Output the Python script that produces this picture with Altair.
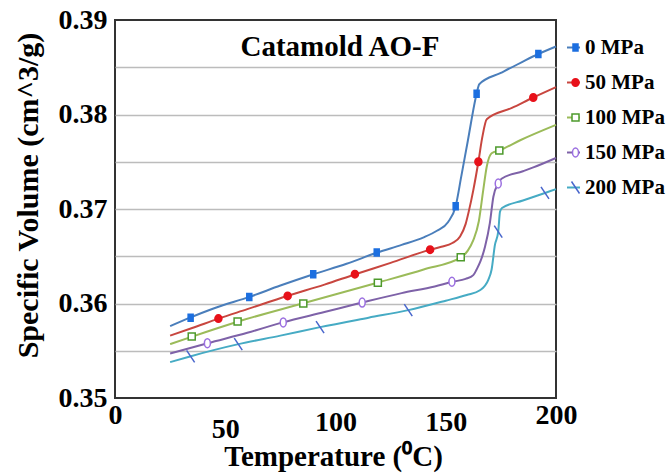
import altair as alt
import pandas as pd

FONT = "Liberation Serif"

series_names = ["0 MPa", "50 MPa", "100 MPa", "150 MPa", "200 MPa"]
pressures = [0, 50, 100, 150, 200]

# smoothed curves (temperature, specific volume)
line_T_0 = [25, 34, 45, 61, 75, 90, 105, 119, 130, 140, 146, 151, 154.5, 157, 160, 164, 165.2, 175, 185, 192, 200]
line_v_0 = [0.3576, 0.3585, 0.3595, 0.3607, 0.3619, 0.3631, 0.3642, 0.3654, 0.3662, 0.3670, 0.3677, 0.3686,
            0.3703, 0.3734, 0.3772, 0.3822, 0.3832, 0.3844, 0.3856, 0.3864, 0.3872]
line_T_50 = [25, 35, 47, 60, 78, 95, 109, 125, 143, 148, 153, 156.5, 159, 160.5, 162.5, 164.8, 166.5, 168.6, 180, 189.7, 200]
line_v_50 = [0.3566, 0.3574, 0.3584, 0.3594, 0.3608, 0.3620, 0.3631, 0.3643, 0.3657, 0.3660, 0.3664, 0.3671,
             0.3684, 0.3698, 0.3720, 0.3750, 0.3775, 0.3795, 0.3807, 0.3818, 0.3829]
line_T_100 = [25, 35, 56, 85, 119, 140, 157, 160, 162.5, 165, 167, 168.6, 170.8, 174.3, 184, 200]
line_v_100 = [0.3557, 0.3565, 0.3581, 0.3600, 0.3622, 0.3636, 0.3649, 0.3656, 0.3667, 0.3687, 0.3720, 0.3745,
              0.3759, 0.3762, 0.3773, 0.3789]
line_T_150 = [25, 42, 60, 76, 95, 112, 130, 145, 153, 159, 162.5, 164, 165.8, 167.8, 170, 171.6, 173.8, 175.3, 185, 189.7, 200]
line_v_150 = [0.3547, 0.3558, 0.3569, 0.3580, 0.3591, 0.3601, 0.3611, 0.3618, 0.3623, 0.3626, 0.3630, 0.3636,
              0.3645, 0.3660, 0.3685, 0.3713, 0.3727, 0.3732, 0.3740, 0.3744, 0.3754]
line_T_200 = [25, 34, 56, 75, 93, 115, 133, 150, 159.5, 165.5, 169.3, 170.8, 172.3, 173.8, 174.6, 175.5, 185, 195, 200]
line_v_200 = [0.3538, 0.3544, 0.3557, 0.3566, 0.3575, 0.3585, 0.3593, 0.3603, 0.3609, 0.3614, 0.3625, 0.3636,
              0.3662, 0.3676, 0.3697, 0.3701, 0.3709, 0.3717, 0.3721]

# data markers
mark_T_0 = [34.3, 60.9, 89.9, 118.7, 154.5, 164, 192]
mark_v_0 = [0.3585, 0.3607, 0.3631, 0.3654, 0.3703, 0.3822, 0.3864]
mark_T_50 = [46.9, 78.3, 108.8, 142.9, 164.8, 189.7]
mark_v_50 = [0.3584, 0.3608, 0.3631, 0.3657, 0.3750, 0.3818]
mark_T_100 = [34.8, 55.6, 85.4, 119.2, 156.8, 174.3]
mark_v_100 = [0.3565, 0.3581, 0.3600, 0.3622, 0.3649, 0.3762]
mark_T_150 = [41.9, 76.3, 112.1, 152.8, 173.8]
mark_v_150 = [0.3558, 0.3580, 0.3601, 0.3623, 0.3727]
mark_T_200 = [34.3, 55.9, 93, 133, 173.8, 195]
mark_v_200 = [0.3544, 0.3557, 0.3575, 0.3593, 0.3676, 0.3717]

x_ticks = [0, 50, 100, 150, 200]
y_ticks = [0.35, 0.355, 0.36, 0.365, 0.37, 0.375, 0.38, 0.385, 0.39]

line_colors = ["#4a7ebb", "#c8463f", "#9bbb59", "#7e62a8", "#46abc4"]
marker_colors = ["#1c6fe0", "#e8111a", "#4d9a2c", "#9b6fe0", "#4866cc"]
marker_fills = ["#1c6fe0", "#e8111a", "white", "white", "white"]
marker_shapes = [
    "M-0.5,-0.7H0.5V0.7H-0.5Z",
    "M0,-0.75A0.7,0.75 0 1,1 0,0.75A0.7,0.75 0 1,1 0,-0.75Z",
    "M-0.7,-0.7H0.7V0.7H-0.7Z",
    "M0,-0.9A0.6,0.9 0 1,1 0,0.9A0.6,0.9 0 1,1 0,-0.9Z",
    "M-0.8,-1.2L0.8,1.2",
]

line_sets = [(line_T_0, line_v_0), (line_T_50, line_v_50), (line_T_100, line_v_100),
             (line_T_150, line_v_150), (line_T_200, line_v_200)]
mark_sets = [(mark_T_0, mark_v_0), (mark_T_50, mark_v_50), (mark_T_100, mark_v_100),
             (mark_T_150, mark_v_150), (mark_T_200, mark_v_200)]

line_rows = []
for name, (ts, vs) in zip(series_names, line_sets):
    for t, v in zip(ts, vs):
        line_rows.append({"T": t, "v": v, "series": name})
line_df = pd.DataFrame(line_rows)

mark_rows = []
for p, (ts, vs) in zip(pressures, mark_sets):
    for t, v in zip(ts, vs):
        mark_rows.append({"T": t, "v": v, "p": p})
mark_df = pd.DataFrame(mark_rows)

x_enc = alt.X(
    "T:Q",
    scale=alt.Scale(domain=[0, 200], nice=False),
    axis=alt.Axis(
        values=x_ticks, grid=False, ticks=False, domain=False, labelFlush=False, labelOverlap=False,
        labelFont=FONT, labelFontSize=28, labelFontWeight="bold", labelColor="black",
        labelPadding=17, labelLineHeight=14,
        labelBaseline={"condition": [
            {"test": "datum.value == 50", "value": "top"},
            {"test": "datum.value == 100 || datum.value == 150", "value": "line-top"},
        ], "value": "middle"},
        title="Temperature (\u2070C)", titleFont=FONT, titleFontSize=29, titleFontWeight="bold",
        titleColor="black", titleY=67, titleX=218, titleBaseline="alphabetic",
    ),
)
y_enc = alt.Y(
    "v:Q",
    scale=alt.Scale(domain=[0.35, 0.39], nice=False, zero=False),
    axis=alt.Axis(
        values=y_ticks, grid=True, ticks=False, domain=False,
        gridColor="#bcbcbc", gridWidth=1.5,
        gridOpacity={"condition": {"test": "datum.value < 0.3505 || datum.value > 0.3895", "value": 0}, "value": 1},
        labelExpr="(round(datum.value * 1000) % 10 == 0) ? format(datum.value, '.2f') : ''",
        labelFont=FONT, labelFontSize=28, labelFontWeight="bold", labelColor="black", labelPadding=8,
        title="Specific Volume (cm^3/g)", titleFont=FONT, titleFontSize=30, titleFontWeight="bold",
        titleColor="black", titleX=-87, titleY=175, titleBaseline="middle", titleAngle=270,
    ),
)

legend_common = dict(
    title=None, orient="none", legendY=17, padding=0, rowPadding=13,
    labelFont=FONT, labelFontSize=21, labelFontWeight="bold", labelColor="black",
    labelLimit=300,
)

line_legend = alt.Legend(legendX=448, symbolType="stroke", symbolSize=169, symbolStrokeWidth=2,
                         labelOffset=1, **legend_common)
point_legend = alt.Legend(legendX=450, symbolSize=100, symbolStrokeWidth=1.5, labelExpr="''",
                          labelOffset=1, **legend_common)

lines = alt.Chart(line_df).mark_line(interpolate="monotone", strokeWidth=2).encode(
    x=x_enc,
    y=y_enc,
    color=alt.Color("series:N", scale=alt.Scale(domain=series_names, range=line_colors), legend=line_legend),
)

points = alt.Chart(mark_df).mark_point(size=100, strokeWidth=1.5, opacity=1).encode(
    x="T:Q",
    y="v:Q",
    stroke=alt.Stroke("p:N", scale=alt.Scale(domain=pressures, range=marker_colors), legend=point_legend),
    fill=alt.Fill("p:N", scale=alt.Scale(domain=pressures, range=marker_fills), legend=point_legend),
    shape=alt.Shape("p:N", scale=alt.Scale(domain=pressures, range=marker_shapes), legend=point_legend),
)

chart = alt.layer(lines, points).properties(
    width=441,
    height=378,
    title=alt.TitleParams("Catamold AO-F", font=FONT, fontSize=29, fontWeight="bold", color="black",
                          anchor="middle", frame="group", offset=-35, baseline="alphabetic", dx=4.5, dy=44),
    padding={"left": 115, "top": 20, "right": 113, "bottom": 77},
    autosize=alt.AutoSizeParams(type="none"),
    background="white",
).configure_view(stroke="#333333", strokeWidth=2)

chart.save("out.html", embed_options={"renderer": "svg", "actions": False})
